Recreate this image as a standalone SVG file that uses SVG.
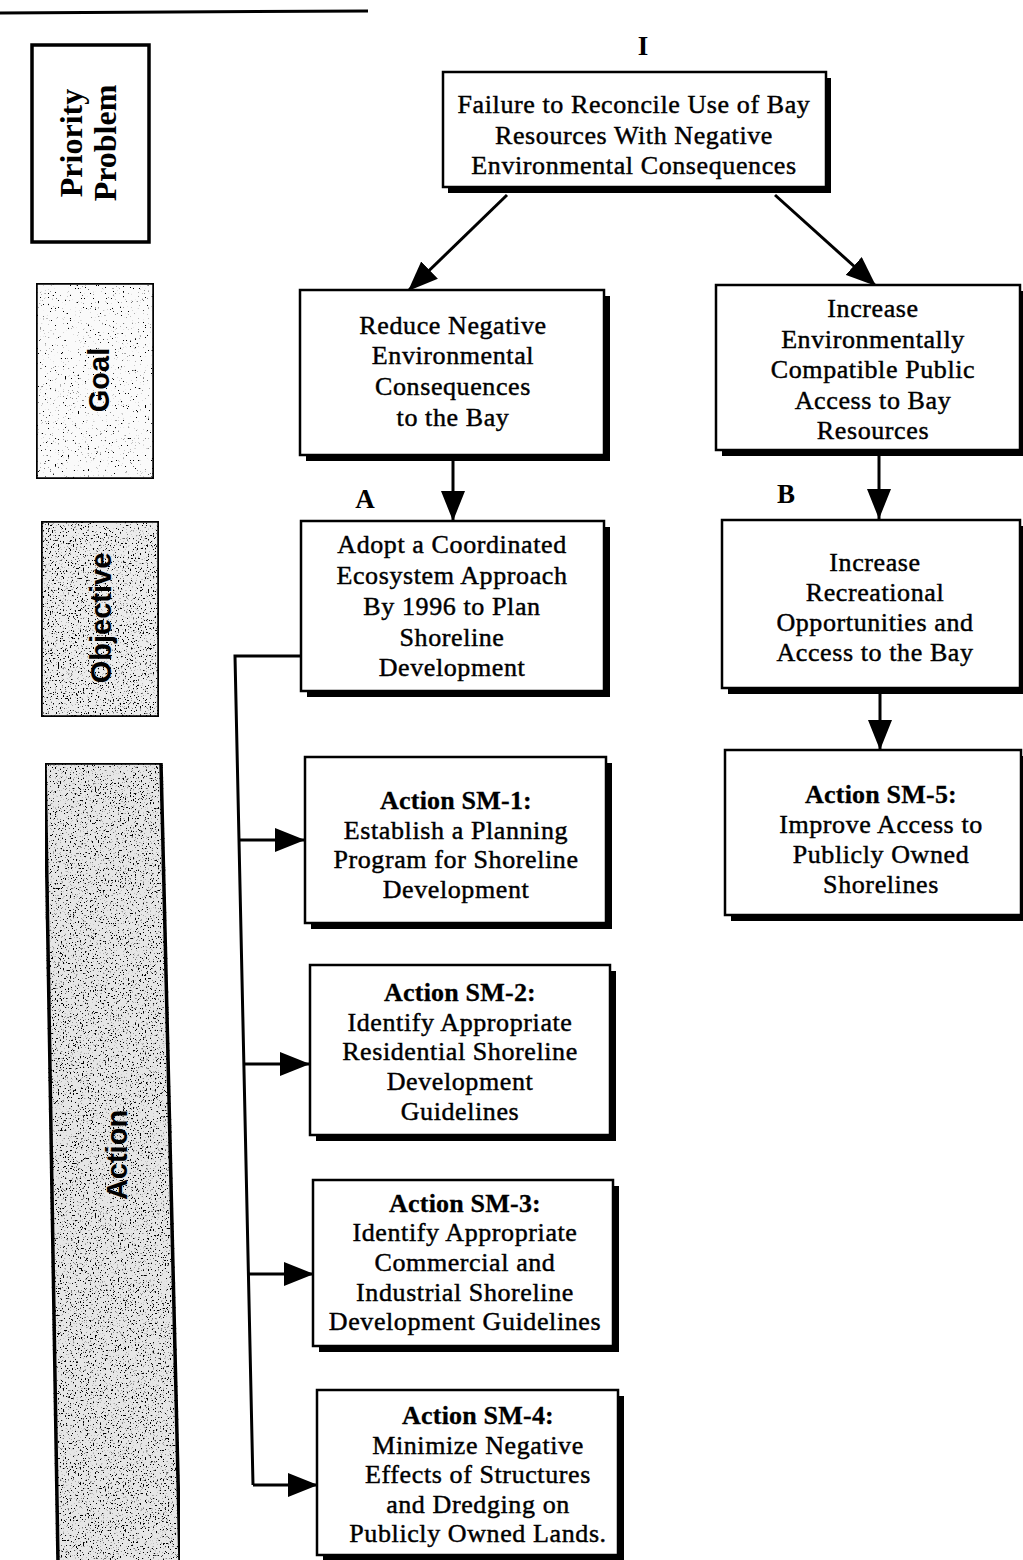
<svg xmlns="http://www.w3.org/2000/svg" width="1023" height="1560" viewBox="0 0 1023 1560">
  <style>
    .box { fill: #ffffff; stroke: #000000; stroke-width: 2.5; }
    .shadow { fill: #000000; }
    .side { stroke: #000000; stroke-width: 3.5; }
    .t { font-family: "Liberation Serif", "Times New Roman", serif; font-size: 26px; fill: #000; stroke: #000; stroke-width: 0.45; text-anchor: middle; letter-spacing: 0.6px; }
    .tb { font-weight: bold; letter-spacing: 0.2px; stroke-width: 0.3; }
    .lbl { font-family: "Liberation Serif", "Times New Roman", serif; font-weight: bold; font-size: 27px; fill: #000; text-anchor: middle; }
    .sideSerif { font-family: "Liberation Serif", "Times New Roman", serif; font-weight: bold; font-size: 32px; fill: #000; text-anchor: middle; }
    .sideSans { font-family: "Liberation Sans", Arial, sans-serif; font-weight: bold; font-size: 29px; fill: #000; text-anchor: middle; }
    .conn { fill: none; stroke: #000; stroke-width: 3; }
  </style>
  <defs>
    <marker id="arrow" viewBox="0 0 30 24" refX="30" refY="12" markerWidth="30" markerHeight="24" markerUnits="userSpaceOnUse" orient="auto">
      <path d="M0,0 L30,12 L0,24 Z" fill="#000"/>
    </marker>
    <!-- speckled halftone fills for the level labels -->
    <filter id="speckleLight" x="0" y="0" width="100%" height="100%">
      <feTurbulence type="fractalNoise" baseFrequency="0.6" numOctaves="3" seed="4" result="noise"/>
      <feColorMatrix in="noise" type="matrix" values="0 0 0 0 0  0 0 0 0 0  0 0 0 0 0  12 0 0 0 -8.2" result="dots"/>
      <feComposite in="dots" in2="SourceGraphic" operator="in" result="clip"/>
      <feMerge><feMergeNode in="SourceGraphic"/><feMergeNode in="clip"/></feMerge>
    </filter>
    <filter id="speckleMid" x="0" y="0" width="100%" height="100%">
      <feTurbulence type="fractalNoise" baseFrequency="0.6" numOctaves="3" seed="9" result="noise"/>
      <feColorMatrix in="noise" type="matrix" values="0 0 0 0 0  0 0 0 0 0  0 0 0 0 0  12 0 0 0 -7.3" result="dots"/>
      <feComposite in="dots" in2="SourceGraphic" operator="in" result="clip"/>
      <feMerge><feMergeNode in="SourceGraphic"/><feMergeNode in="clip"/></feMerge>
    </filter>
  </defs>

  <rect x="0" y="0" width="1023" height="1560" fill="#ffffff"/>

  <!-- rule across the top -->
  <line x1="0" y1="13" x2="368" y2="11" stroke="#000" stroke-width="3"/>

  <!-- level labels down the left side -->
  <g id="level-priority">
    <rect class="side" x="32" y="45" width="117" height="197" fill="#ffffff"/>
    <text class="sideSerif" transform="translate(82,143) rotate(-90)">Priority</text>
    <text class="sideSerif" transform="translate(116,143) rotate(-90)">Problem</text>
  </g>
  <g id="level-goal">
    <rect class="side" x="36" y="283" width="118" height="196" fill="#fafafa" filter="url(#speckleLight)"/>
    <text class="sideSans" transform="translate(109,380) rotate(-90)">Goal</text>
  </g>
  <g id="level-objective">
    <rect class="side" x="41" y="521" width="118" height="196" fill="#ececec" filter="url(#speckleMid)"/>
    <text class="sideSans" transform="translate(111,618) rotate(-90)">Objective</text>
  </g>
  <g id="level-action">
    <polygon class="side" points="45,763 161,763 180,1562 58,1562" fill="#e6e6e6" filter="url(#speckleMid)"/>
    <text class="sideSans" transform="translate(127,1155) rotate(-90)">Action</text>
  </g>

  <!-- connectors -->
  <g id="connectors">
    <line class="conn" x1="507" y1="195" x2="408" y2="291" marker-end="url(#arrow)"/>
    <line class="conn" x1="775" y1="195" x2="876" y2="286" marker-end="url(#arrow)"/>
    <line class="conn" x1="453" y1="459" x2="453" y2="521" marker-end="url(#arrow)"/>
    <line class="conn" x1="879" y1="455" x2="879" y2="519" marker-end="url(#arrow)"/>
    <line class="conn" x1="880" y1="692" x2="880" y2="750" marker-end="url(#arrow)"/>
    <path class="conn" d="M302,656 L235,656 L253,1485"/>
    <line class="conn" x1="239" y1="840" x2="305" y2="840" marker-end="url(#arrow)"/>
    <line class="conn" x1="244" y1="1064" x2="310" y2="1064" marker-end="url(#arrow)"/>
    <line class="conn" x1="248" y1="1274" x2="314" y2="1274" marker-end="url(#arrow)"/>
    <line class="conn" x1="253" y1="1485" x2="318" y2="1485" marker-end="url(#arrow)"/>
  </g>

  <!-- branch letters -->
  <text class="lbl" x="643" y="55">I</text>
  <text class="lbl" x="365" y="508">A</text>
  <text class="lbl" x="786" y="503">B</text>

  <!-- problem -->
  <g id="problem">
    <rect class="shadow" x="448" y="78" width="383" height="115"/>
    <rect class="box" x="443" y="72" width="383" height="115"/>
    <text class="t" x="634" y="113">Failure to Reconcile Use of Bay</text>
    <text class="t" x="634" y="144">Resources With Negative</text>
    <text class="t" x="634" y="174">Environmental Consequences</text>
  </g>

  <!-- goals -->
  <g id="goal-reduce">
    <rect class="shadow" x="306" y="296" width="304" height="165"/>
    <rect class="box" x="300" y="290" width="304" height="165"/>
    <text class="t" x="453" y="334">Reduce Negative</text>
    <text class="t" x="453" y="364">Environmental</text>
    <text class="t" x="453" y="395">Consequences</text>
    <text class="t" x="453" y="426">to the Bay</text>
  </g>
  <g id="goal-access">
    <rect class="shadow" x="722" y="291" width="304" height="165"/>
    <rect class="box" x="716" y="285" width="304" height="165"/>
    <text class="t" x="873" y="317">Increase</text>
    <text class="t" x="873" y="348">Environmentally</text>
    <text class="t" x="873" y="378">Compatible Public</text>
    <text class="t" x="873" y="409">Access to Bay</text>
    <text class="t" x="873" y="439">Resources</text>
  </g>

  <!-- objectives -->
  <g id="objective-a">
    <rect class="shadow" x="307" y="527" width="303" height="170"/>
    <rect class="box" x="301" y="521" width="303" height="170"/>
    <text class="t" x="452" y="553">Adopt a Coordinated</text>
    <text class="t" x="452" y="584">Ecosystem Approach</text>
    <text class="t" x="452" y="615">By 1996 to Plan</text>
    <text class="t" x="452" y="646">Shoreline</text>
    <text class="t" x="452" y="676">Development</text>
  </g>
  <g id="objective-b">
    <rect class="shadow" x="728" y="526" width="298" height="168"/>
    <rect class="box" x="722" y="520" width="298" height="168"/>
    <text class="t" x="875" y="571">Increase</text>
    <text class="t" x="875" y="601">Recreational</text>
    <text class="t" x="875" y="631">Opportunities and</text>
    <text class="t" x="875" y="661">Access to the Bay</text>
  </g>

  <!-- actions -->
  <g id="action-sm1">
    <rect class="shadow" x="311" y="763" width="301" height="166"/>
    <rect class="box" x="305" y="757" width="301" height="166"/>
    <text class="t tb" x="456" y="809">Action SM-1:</text>
    <text class="t" x="456" y="839">Establish a Planning</text>
    <text class="t" x="456" y="868">Program for Shoreline</text>
    <text class="t" x="456" y="898">Development</text>
  </g>
  <g id="action-sm2">
    <rect class="shadow" x="316" y="971" width="300" height="170"/>
    <rect class="box" x="310" y="965" width="300" height="170"/>
    <text class="t tb" x="460" y="1001">Action SM-2:</text>
    <text class="t" x="460" y="1031">Identify Appropriate</text>
    <text class="t" x="460" y="1060">Residential Shoreline</text>
    <text class="t" x="460" y="1090">Development</text>
    <text class="t" x="460" y="1120">Guidelines</text>
  </g>
  <g id="action-sm3">
    <rect class="shadow" x="319" y="1186" width="300" height="166"/>
    <rect class="box" x="313" y="1180" width="300" height="166"/>
    <text class="t tb" x="465" y="1212">Action SM-3:</text>
    <text class="t" x="465" y="1241">Identify Appropriate</text>
    <text class="t" x="465" y="1271">Commercial and</text>
    <text class="t" x="465" y="1301">Industrial Shoreline</text>
    <text class="t" x="465" y="1330">Development Guidelines</text>
  </g>
  <g id="action-sm4">
    <rect class="shadow" x="323" y="1396" width="301" height="165"/>
    <rect class="box" x="317" y="1390" width="301" height="165"/>
    <text class="t tb" x="478" y="1424">Action SM-4:</text>
    <text class="t" x="478" y="1454">Minimize Negative</text>
    <text class="t" x="478" y="1483">Effects of Structures</text>
    <text class="t" x="478" y="1513">and Dredging on</text>
    <text class="t" x="478" y="1542">Publicly Owned Lands.</text>
  </g>
  <g id="action-sm5">
    <rect class="shadow" x="731" y="756" width="296" height="165"/>
    <rect class="box" x="725" y="750" width="296" height="165"/>
    <text class="t tb" x="881" y="803">Action SM-5:</text>
    <text class="t" x="881" y="833">Improve Access to</text>
    <text class="t" x="881" y="863">Publicly Owned</text>
    <text class="t" x="881" y="893">Shorelines</text>
  </g>
</svg>
